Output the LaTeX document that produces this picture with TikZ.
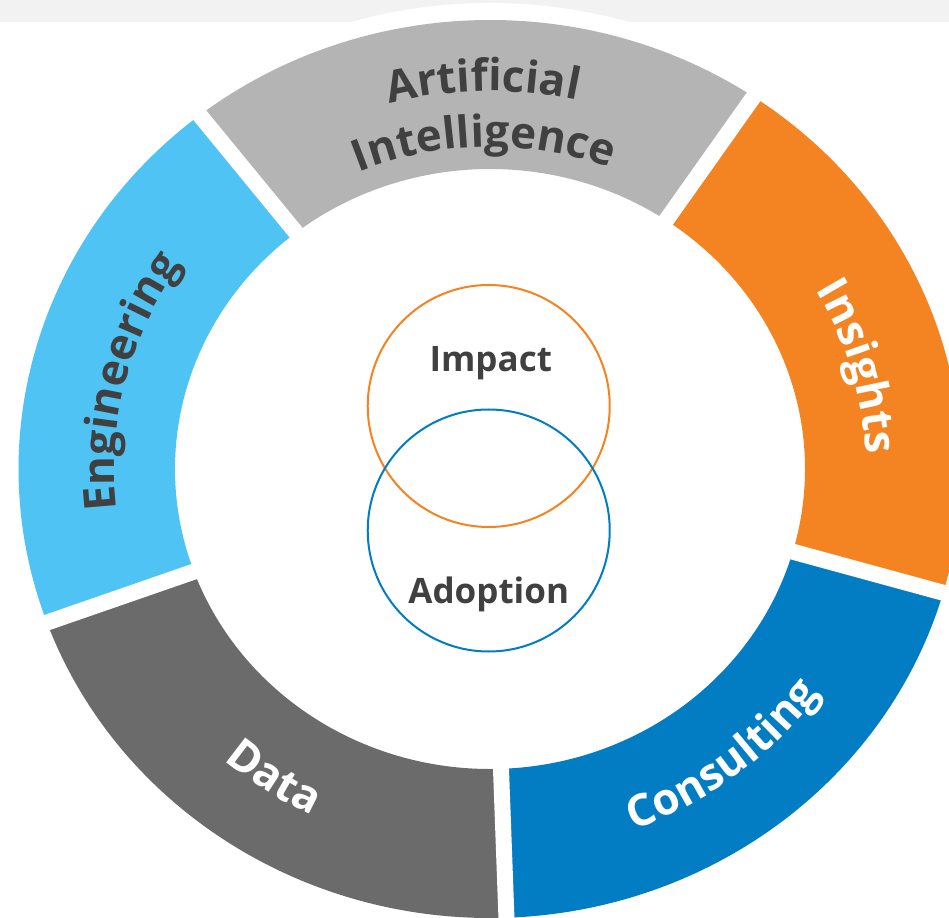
\documentclass[tikz,border=0pt]{standalone}
\usepackage{fontspec}
\setmainfont{Open Sans}
\usetikzlibrary{decorations.text}

\definecolor{aigray}{HTML}{B4B4B4}
\definecolor{engblue}{HTML}{4FC3F4}
\definecolor{insorange}{HTML}{F48422}
\definecolor{conblue}{HTML}{027CC2}
\definecolor{datagray}{HTML}{6B6B6B}
\definecolor{txtgray}{HTML}{404040}
\definecolor{stripgray}{HTML}{F2F2F2}

% text set along an arc of the ring
\newcommand{\ringtext}[5]{%
  \path[decorate,decoration={text along path,text align=center,text color=#1,
      text={|\fontsize{44}{50}\selectfont\bfseries|#5}}]
    (#3:#2) arc[start angle=#3,end angle=#4,radius=#2];}

\begin{document}
\begin{tikzpicture}[x=1.05pt,y=1pt,
    venn/.style={circle,draw,line width=2pt,minimum size=242pt,inner sep=0pt},
    vennlabel/.style={font=\fontsize{35}{42}\selectfont\bfseries,text=txtgray,anchor=base}]
  \useasboundingbox (-490pt,-448pt) rectangle (459pt,469pt);

  % Strip at the top
  \fill[stripgray] (-490pt,447pt) rectangle (459pt,469pt);
  \fill[white] (0,0) circle[radius=466];

  % Ring segments
  \foreach \a/\col in {56/aigray,128/engblue,200/datagray,272/conblue,344/insorange}{
    \pgfmathsetmacro{\b}{\a+72}
    \fill[\col] (\a:300) arc[start angle=\a,end angle=\b,radius=300]
      -- (\b:449) arc[start angle=\b,end angle=\a,radius=449] -- cycle;
  }
  \foreach \a in {56,128,200,272,344}
    \draw[white,line width=16pt] (\a:290) -- (\a:475);

  % Segment labels
  \ringtext{txtgray}{378}{127}{55}{Artificial}
  \ringtext{txtgray}{322}{127}{55}{Intelligence}
  \ringtext{txtgray}{358}{202}{130}{Engineering}
  \ringtext{white}{358}{52}{-20}{Insights}
  \ringtext{white}{386}{200}{272}{Data}
  \ringtext{white}{386}{272}{344}{Consulting}

  % Venn circles
  \node[venn,draw=insorange] (impact) at (-1.2,63) {};
  \node[venn,draw=conblue] (adoption) at (-1.2,-61.5) {};
  \node[vennlabel] (impacttxt) at ([xshift=2pt,yshift=34pt]impact.center) {Impact};
  \node[vennlabel] (adoptiontxt) at ([yshift=-72.5pt]adoption.center) {Adoption};
\end{tikzpicture}
\end{document}
